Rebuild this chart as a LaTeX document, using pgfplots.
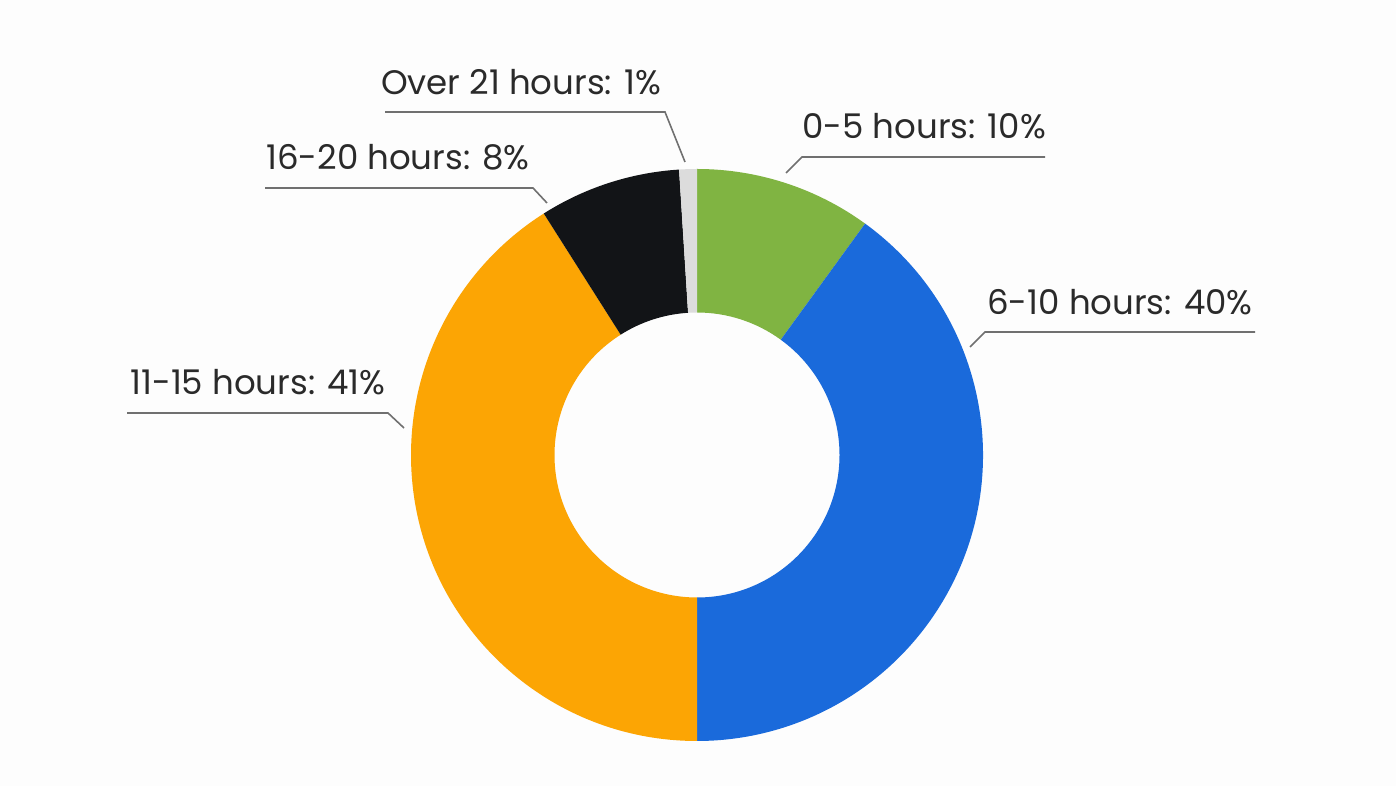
\documentclass[border=0pt]{standalone}
\usepackage{pgfplots}
\pgfplotsset{compat=1.18}
\usepackage{fontspec}
\setmainfont{Poppins}
\definecolor{cgreen}{HTML}{80B442}
\definecolor{cblue}{HTML}{1A6ADB}
\definecolor{corange}{HTML}{FCA504}
\definecolor{cblack}{HTML}{121417}
\definecolor{cgray}{HTML}{DCDCDC}
\definecolor{ctext}{HTML}{2A2A2A}
\definecolor{cline}{HTML}{707070}
\definecolor{bg}{HTML}{FDFDFD}
% wedge from cumulative percent #1 to #2 (clockwise from top)
\newcommand{\donutwedge}[3]{%
  \fill[#3] (axis cs:697,331) ++({90-3.6*#1}:143pt)
    arc[start angle={90-3.6*#1}, end angle={90-3.6*#2}, radius=143pt]
    -- ++({270-3.6*#2}:71.75pt)
    arc[start angle={90-3.6*#2}, end angle={90-3.6*#1}, radius=71.25pt]
    -- cycle;}
\begin{document}
\begin{tikzpicture}
\begin{axis}[
  scale only axis, width=698pt, height=393pt,
  xmin=0, xmax=1396, ymin=0, ymax=786,
  hide axis, clip=false]
\fill[bg] (axis cs:0,0) rectangle (axis cs:1396,786);
% data: 0-5 h 10%, 6-10 h 40%, 11-15 h 41%, 16-20 h 8%, over 21 h 1%
\donutwedge{0}{10}{cgreen}
\donutwedge{10}{50}{cblue}
\donutwedge{50}{91}{corange}
\donutwedge{91}{99}{cblack}
\donutwedge{99}{100}{cgray}
% leader lines (y = 786 - image y)
\draw[cline, line width=0.8pt] (axis cs:385,674) -- (axis cs:665,674) -- (axis cs:685,624);
\draw[cline, line width=0.8pt] (axis cs:786,613) -- (axis cs:802,629) -- (axis cs:1045,629);
\draw[cline, line width=0.8pt] (axis cs:970,439) -- (axis cs:985,454) -- (axis cs:1255,454);
\draw[cline, line width=0.8pt] (axis cs:127,373) -- (axis cs:388,373) -- (axis cs:404,358);
\draw[cline, line width=0.8pt] (axis cs:265,598) -- (axis cs:533,598) -- (axis cs:547,583);
\begin{scope}[every node/.style={font=\fontsize{17pt}{20pt}\selectfont, text=ctext, anchor=base, inner sep=0pt}]
\node at (axis cs:521,691) {Over 21 hours: 1\%};
\node at (axis cs:924,647) {0-5 hours: 10\%};
\node at (axis cs:1120,471) {6-10 hours: 40\%};
\node at (axis cs:258,391) {11-15 hours: 41\%};
\node at (axis cs:398,616) {16-20 hours: 8\%};
\end{scope}
\end{axis}
\end{tikzpicture}
\end{document}
